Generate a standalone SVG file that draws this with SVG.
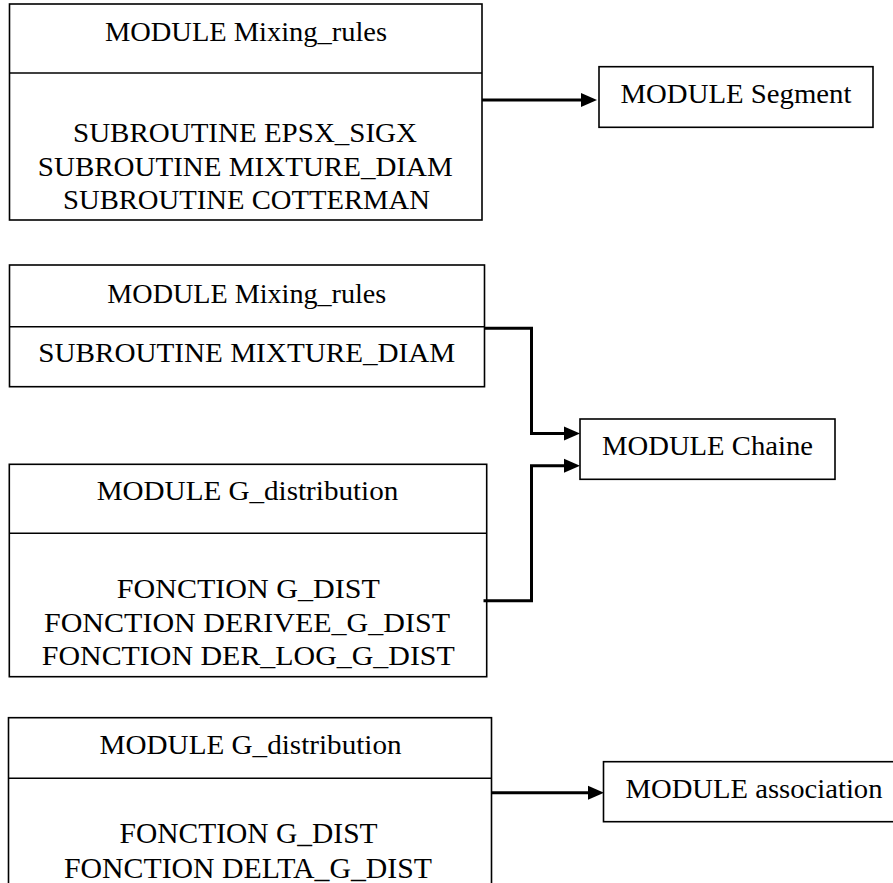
<svg xmlns="http://www.w3.org/2000/svg" width="893" height="883" viewBox="0 0 893 883">
<style>
.box{fill:#fff;stroke:#000;stroke-width:1.6}
.div{stroke:#000;stroke-width:1.6}
.t{font-family:"Liberation Serif","Times New Roman",serif;font-size:27px;fill:#000;text-anchor:middle}
.t4{font-size:29px}
.c{fill:none;stroke:#000;stroke-width:3;stroke-linejoin:miter}
</style>
<defs>
<marker id="ah" markerUnits="userSpaceOnUse" markerWidth="17" markerHeight="15" refX="2" refY="7" orient="auto" overflow="visible">
<path d="M0,0 L16,7 L0,14 Z" fill="#000"/>
</marker>
</defs>
<rect width="893" height="883" fill="#fff"/>

<g id="mixing_rules_1">
<rect class="box" x="9.5" y="4" width="472.5" height="216"/>
<line class="div" x1="9.5" y1="73" x2="482" y2="73"/>
<text class="t" x="246" y="40.7" textLength="282" lengthAdjust="spacingAndGlyphs">MODULE Mixing_rules</text>
<text class="t" x="245" y="141.7" textLength="344" lengthAdjust="spacingAndGlyphs">SUBROUTINE EPSX_SIGX</text>
<text class="t" x="245.3" y="175.7" textLength="415" lengthAdjust="spacingAndGlyphs">SUBROUTINE MIXTURE_DIAM</text>
<text class="t" x="246.5" y="209.3" textLength="367" lengthAdjust="spacingAndGlyphs">SUBROUTINE COTTERMAN</text>
</g>

<g id="segment">
<rect class="box" x="599" y="66.7" width="274" height="60.6"/>
<text class="t" x="736" y="103.3" textLength="231" lengthAdjust="spacingAndGlyphs">MODULE Segment</text>
</g>

<g id="mixing_rules_2">
<rect class="box" x="9.5" y="265" width="475" height="121.7"/>
<line class="div" x1="9.5" y1="326.7" x2="484.5" y2="326.7"/>
<text class="t" x="246.8" y="302.7" textLength="279" lengthAdjust="spacingAndGlyphs">MODULE Mixing_rules</text>
<text class="t" x="246.8" y="361.7" textLength="417" lengthAdjust="spacingAndGlyphs">SUBROUTINE MIXTURE_DIAM</text>
</g>

<g id="chaine">
<rect class="box" x="580" y="419" width="255" height="60.3"/>
<text class="t" x="707.5" y="455" textLength="211" lengthAdjust="spacingAndGlyphs">MODULE Chaine</text>
</g>

<g id="g_distribution_1">
<rect class="box" x="9.3" y="464.3" width="477.4" height="212.4"/>
<line class="div" x1="9.3" y1="533.3" x2="486.7" y2="533.3"/>
<text class="t" x="247.5" y="500" textLength="301.6" lengthAdjust="spacingAndGlyphs">MODULE G_distribution</text>
<text class="t" x="248.3" y="598.3" textLength="263" lengthAdjust="spacingAndGlyphs">FONCTION G_DIST</text>
<text class="t" x="247" y="631.7" textLength="406" lengthAdjust="spacingAndGlyphs">FONCTION DERIVEE_G_DIST</text>
<text class="t" x="248.3" y="665" textLength="413" lengthAdjust="spacingAndGlyphs">FONCTION DER_LOG_G_DIST</text>
</g>

<g id="g_distribution_2">
<rect class="box" x="8.5" y="717.7" width="483" height="200"/>
<line class="div" x1="8.5" y1="778.3" x2="491.5" y2="778.3"/>
<text class="t" x="250.6" y="754" textLength="302" lengthAdjust="spacingAndGlyphs">MODULE G_distribution</text>
<text class="t t4" x="248.6" y="843.3" textLength="258" lengthAdjust="spacingAndGlyphs">FONCTION G_DIST</text>
<text class="t t4" x="248" y="877.5" textLength="368" lengthAdjust="spacingAndGlyphs">FONCTION DELTA_G_DIST</text>
</g>

<g id="association">
<rect class="box" x="603.5" y="761.7" width="300" height="60"/>
<text class="t" x="754" y="798" textLength="257" lengthAdjust="spacingAndGlyphs">MODULE association</text>
</g>

<g id="connectors">
<path class="c" d="M482,100 H583" marker-end="url(#ah)"/>
<path class="c" d="M485,328.3 H531.5 V433.5 H566" marker-end="url(#ah)"/>
<path class="c" d="M483.5,600.7 H531.5 V465.7 H566" marker-end="url(#ah)"/>
<path class="c" d="M491.5,792.7 H590" marker-end="url(#ah)"/>
</g>
</svg>
